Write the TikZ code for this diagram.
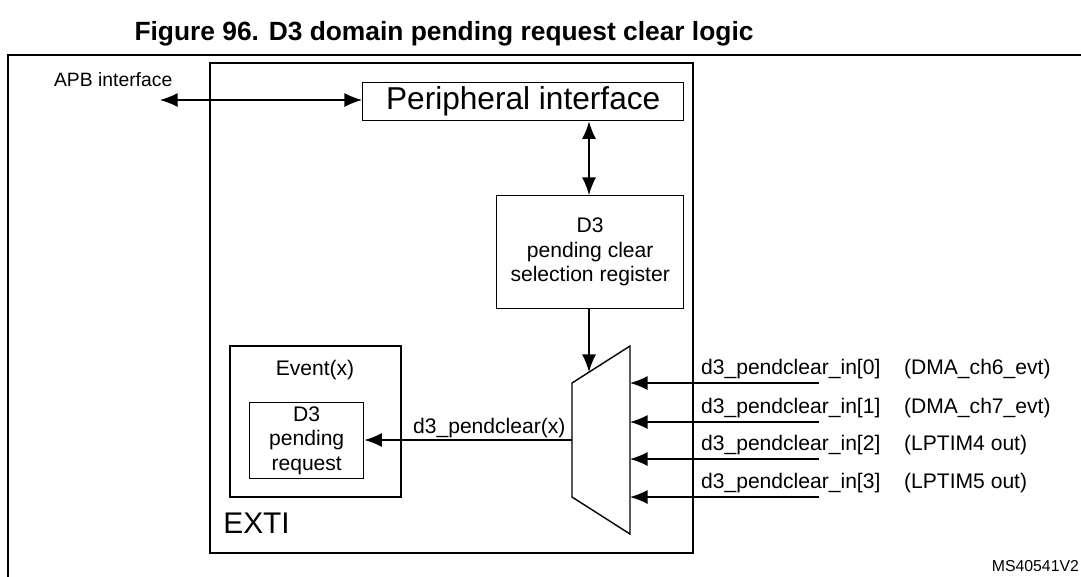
\documentclass[tikz,border=0pt]{standalone}
\usepackage{fontspec}
\setmainfont{Liberation Sans}
\usetikzlibrary{positioning, arrows.meta}
\tikzset{
    block/.style={
        draw, thick, align = center, inner sep = 0pt,
        font = \fontsize{12pt}{14pt}\selectfont
    },
    line/.style = {thick, -{Latex[length=10pt,width=8pt]}},
    dline/.style = {thick, {Latex[length=10pt,width=8pt]}-{Latex[length=10pt,width=8pt]}},
    lbl/.style = {font = \fontsize{12pt}{14pt}\selectfont, inner sep = 1pt}
}
\begin{document}
\begin{tikzpicture}[x=0.02cm, y=-0.02cm]
                                \useasboundingbox (0,0) rectangle (1081,576);

                                % Title and frame
                                \node[font=\bfseries\fontsize{15pt}{17pt}\selectfont] (title) at (444,34) {Figure 96. D3 domain pending request clear logic};
                                \draw[thick] (8,590) -- (8,55) -- (1090,55);

                                % EXTI block
                                \draw[thick] (210,63) rectangle (693,553);
                                \node[anchor=base west, font=\fontsize{17pt}{19pt}\selectfont, inner sep=0pt] (exti) at (223,533) {EXTI};

                                % Peripheral interface
                                \node[block, minimum width=321*0.02cm, minimum height=38*0.02cm, anchor=north west, font=\fontsize{18pt}{20pt}\selectfont] (periph) at (362,82) {Peripheral interface};
                                \node[lbl, anchor=west, font=\fontsize{11pt}{13pt}\selectfont] (apb) at (52,80) {APB interface};
                                \coordinate (apbend) at (160,100);
                                \draw[dline] (apbend) -- (periph.west |- apbend);

                                % Selection register
                                \node[block, minimum width=187*0.02cm, minimum height=113*0.02cm, anchor=north west] (selreg) at (496,195) {D3\\pending clear\\selection register};
                                \draw[dline] (periph.south -| 589,0) -- (selreg.north -| 589,0);

                                % Multiplexer
                                \draw[thick] (572,383) -- (630,346) -- (630,534) -- (572,497) -- cycle;
                                \coordinate (mtop) at (589,372);
                                \draw[line] (selreg.south -| mtop) -- (mtop);

                                % Event box
                                \draw[thick] (230,346) rectangle (401,497);
                                \node[lbl] (event) at (315,370) {Event(x)};
                                \node[block, minimum width=114*0.02cm, minimum height=76*0.02cm, anchor=north west] (pend) at (249,402) {D3\\pending\\request};
                                \coordinate (mout) at (572,440);
                                \draw[line] (mout) -- (pend.east |- mout) node[lbl, midway, above, xshift=12pt] {d3\_pendclear(x)};

                                % Inputs
                                \foreach \i/\y/\src in {0/383/DMA\_ch6\_evt, 1/422/DMA\_ch7\_evt, 2/459/LPTIM4 out, 3/497/LPTIM5 out} {
                                    \coordinate (in\i) at (819,\y);
                                    \draw[line] (in\i) -- (630,\y);
                                    \node[lbl, anchor=south west] at (699,\y-2) {d3\_pendclear\_in[\i]};
                                    \node[lbl, anchor=south west] at (902,\y-2) {(\src)};
                                }

                                \node[font=\fontsize{9pt}{10pt}\selectfont, anchor=east, inner sep=1pt] (ref) at (1081,566) {MS40541V2};

                            \end{tikzpicture}
\end{document}
